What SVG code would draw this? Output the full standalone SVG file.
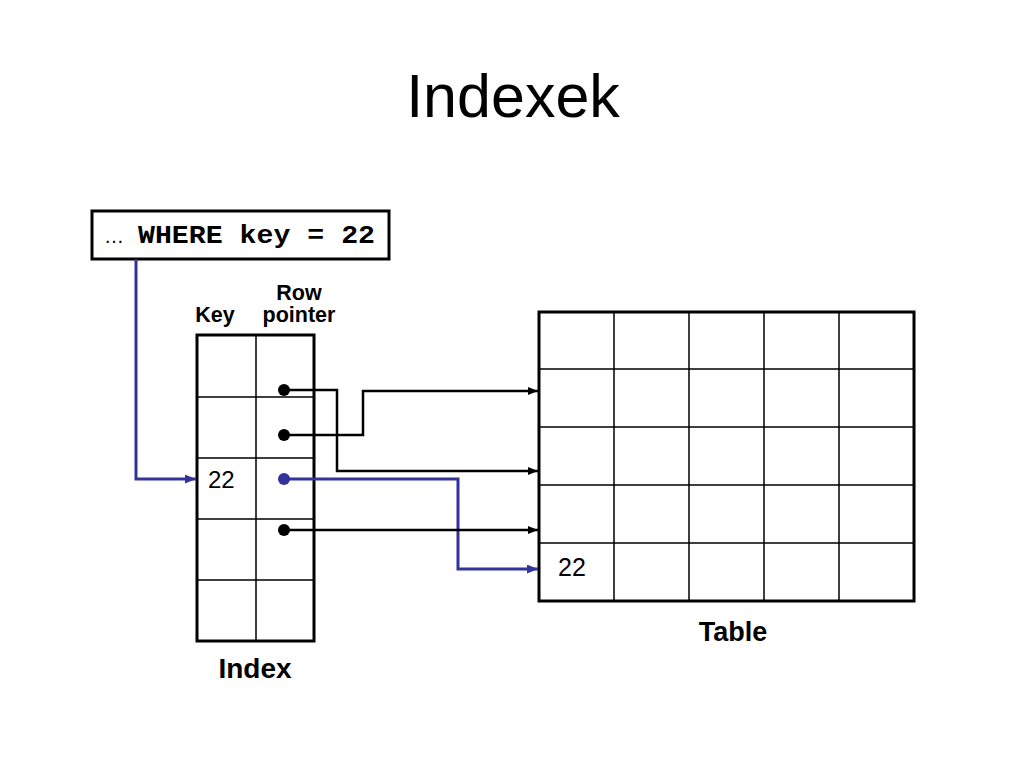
<svg xmlns="http://www.w3.org/2000/svg" width="1024" height="768" viewBox="0 0 1024 768">
<style>
.t{font-family:"Liberation Sans",Arial,sans-serif;fill:#000}
.b{font-weight:bold}
.frame{fill:none;stroke:#000;stroke-width:3}
.grid{fill:none;stroke:#000;stroke-width:1.5}
.blk{fill:none;stroke:#000;stroke-width:2.5}
.blu{fill:none;stroke:#333399;stroke-width:3}
</style>
<defs>
<marker id="ak" viewBox="0 0 10 8" refX="10" refY="4" markerWidth="10" markerHeight="8" markerUnits="userSpaceOnUse" orient="auto"><path d="M0,0 L10,4 L0,8 Z" fill="#000"/></marker>
<marker id="ab" viewBox="0 0 10 8" refX="10" refY="4" markerWidth="11" markerHeight="9" markerUnits="userSpaceOnUse" orient="auto"><path d="M0,0 L10,4 L0,8 Z" fill="#333399"/></marker>
</defs>
<rect width="1024" height="768" fill="#fff"/>
<text class="t" x="513" y="117" font-size="61" text-anchor="middle">Indexek</text>

<g id="query">
<rect x="92" y="211" width="297" height="48" fill="#fff" stroke="#000" stroke-width="3"/>
<text x="104" y="243" font-size="26"><tspan font-family="Liberation Sans,Arial,sans-serif" font-size="20">…</tspan><tspan x="138" font-family="Liberation Mono,Courier New,monospace" font-weight="bold" textLength="237" lengthAdjust="spacingAndGlyphs">WHERE key = 22</tspan></text>
</g>

<g id="index">
<rect class="frame" x="197" y="335" width="117" height="306"/>
<path class="grid" d="M256,335 V641 M197,397 H314 M197,458 H314 M197,519 H314 M197,580 H314"/>
<text class="t b" x="215" y="322" font-size="21.5" text-anchor="middle">Key</text>
<text class="t b" x="299" y="300" font-size="21.5" text-anchor="middle">Row</text>
<text class="t b" x="299" y="322" font-size="21.5" text-anchor="middle">pointer</text>
<text class="t" x="208" y="488" font-size="24">22</text>
<text class="t b" x="255" y="678" font-size="28" text-anchor="middle">Index</text>
<circle cx="284" cy="390" r="6" fill="#000"/>
<circle cx="284" cy="435" r="6" fill="#000"/>
<circle cx="284" cy="479" r="6" fill="#333399"/>
<circle cx="284" cy="530" r="6" fill="#000"/>
</g>

<g id="table">
<rect class="frame" x="539" y="312" width="375" height="289"/>
<path class="grid" d="M614,312 V601 M689,312 V601 M764,312 V601 M839,312 V601 M539,369 H914 M539,427 H914 M539,485 H914 M539,543 H914"/>
<text class="t" x="558" y="576" font-size="25">22</text>
<text class="t b" x="733" y="641" font-size="27" text-anchor="middle">Table</text>
</g>

<g id="connectors">
<path class="blu" d="M136,259 V479 H196" marker-end="url(#ab)"/>
<path class="blk" d="M284,390 H337 V471 H538" marker-end="url(#ak)"/>
<path class="blk" d="M284,435 H363 V391 H538" marker-end="url(#ak)"/>
<path class="blu" d="M284,479 H458 V569 H538" marker-end="url(#ab)"/>
<path class="blk" d="M284,530 H538" marker-end="url(#ak)"/>
</g>
</svg>
